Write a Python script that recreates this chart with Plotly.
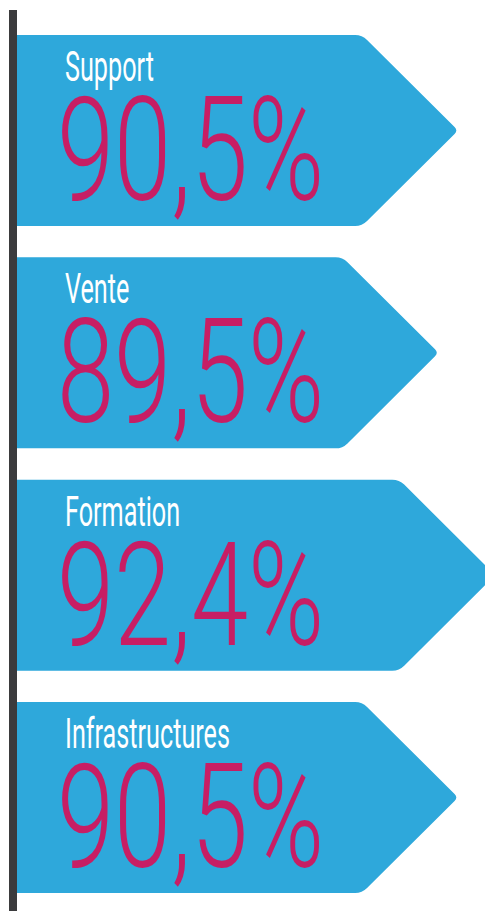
import math
import plotly.graph_objects as go

# ---- data ----
categories = ["Support", "Vente", "Formation", "Infrastructures"]
values = [90.5, 89.5, 92.4, 90.5]
value_labels = ["90,5%", "89,5%", "92,4%", "90,5%"]

# ---- style / layout ----
W, H = 493, 911
OFF = 8                      # page body margin of the html page
BLUE = "#2EA8DB"
PINK = "#C71E64"
DARK = "#3B3B3D"
PX_PER_UNIT = 19.55          # horizontal scale (px per percentage point)
X_LO = 90.725 + (OFF - 462.5) / PX_PER_UNIT
X_HI = X_LO + W / PX_PER_UNIT
ROW_PX = 222.33              # px per category row
Y_LO = -(130.5 - OFF) / ROW_PX
Y_HI = Y_LO + H / ROW_PX
BAND = 191 / ROW_PX          # arrow height in row units
BASE = X_LO + (17 - OFF) / PX_PER_UNIT
HALF_PX = 96

def px2x(p):
    return p / PX_PER_UNIT

def px2y(p):
    return p / ROW_PX

def arrow_path(i, v):
    top = i - BAND / 2
    bot = i + BAND / 2
    tip = v
    sh = tip - px2x(HALF_PX)
    r1 = 7 / math.sqrt(2)
    r2 = 5 / math.sqrt(2)
    pts = []
    pts.append(f"M {BASE},{top}")
    pts.append(f"L {sh - px2x(7)},{top}")
    pts.append(f"Q {sh},{top} {sh + px2x(r1)},{top + px2y(r1)}")
    pts.append(f"L {tip - px2x(r2)},{i - px2y(r2)}")
    pts.append(f"Q {tip},{i} {tip - px2x(r2)},{i + px2y(r2)}")
    pts.append(f"L {sh + px2x(r1)},{bot - px2y(r1)}")
    pts.append(f"Q {sh},{bot} {sh - px2x(7)},{bot}")
    pts.append(f"L {BASE},{bot} Z")
    return " ".join(pts)

fig = go.Figure()
fig.add_trace(go.Scatter(x=values, y=list(range(len(values))), mode="markers",
                         marker=dict(opacity=0), hoverinfo="skip", showlegend=False))

FONT = "Roboto, Liberation Sans, sans-serif"
shapes = []
annotations = []
for i, (cat, v, lab) in enumerate(zip(categories, values, value_labels)):
    shapes.append(dict(type="path", path=arrow_path(i, v), xref="x", yref="y",
                       fillcolor=BLUE, line=dict(width=0), layer="below"))
    top = i - BAND / 2
    annotations.append(dict(x=BASE, y=top, xref="x", yref="y", text=cat,
                            showarrow=False, xanchor="left", yanchor="top",
                            xshift=47, yshift=-6, borderpad=0,
                            font=dict(family=FONT, size=42, weight=400, color="white")))
    annotations.append(dict(x=BASE, y=top, xref="x", yref="y", text=lab,
                            showarrow=False, xanchor="left", yanchor="top",
                            xshift=39, yshift=-29, borderpad=0,
                            font=dict(family=FONT, size=145, weight=300, color=PINK)))

shapes.append(dict(type="rect", xref="x", yref="paper",
                   x0=BASE - px2x(8), x1=BASE, y0=0, y1=1 - (10 - OFF) / H,
                   fillcolor=DARK, line=dict(width=0), layer="below"))

fig.update_layout(
    width=W, height=H, autosize=False,
    margin=dict(l=0, r=0, t=0, b=0),
    paper_bgcolor="white", plot_bgcolor="white",
    xaxis=dict(range=[X_LO, X_HI], visible=False, fixedrange=True),
    yaxis=dict(range=[Y_HI, Y_LO], visible=False, fixedrange=True),
    shapes=shapes, annotations=annotations,
)

# condensed look of the original typeface: narrow the glyphs horizontally
post = """
document.querySelectorAll('.annotation-text').forEach(function(t){
  var s = t.textContent.indexOf('%') >= 0 ? 0.71 : 0.60;
  t.style.transformBox = 'fill-box';
  t.style.transformOrigin = '0% 50%';
  t.style.transform = 'scaleX(' + s + ')';
});
"""
fig.write_html("out.html", post_script=post, config={"staticPlot": True})
